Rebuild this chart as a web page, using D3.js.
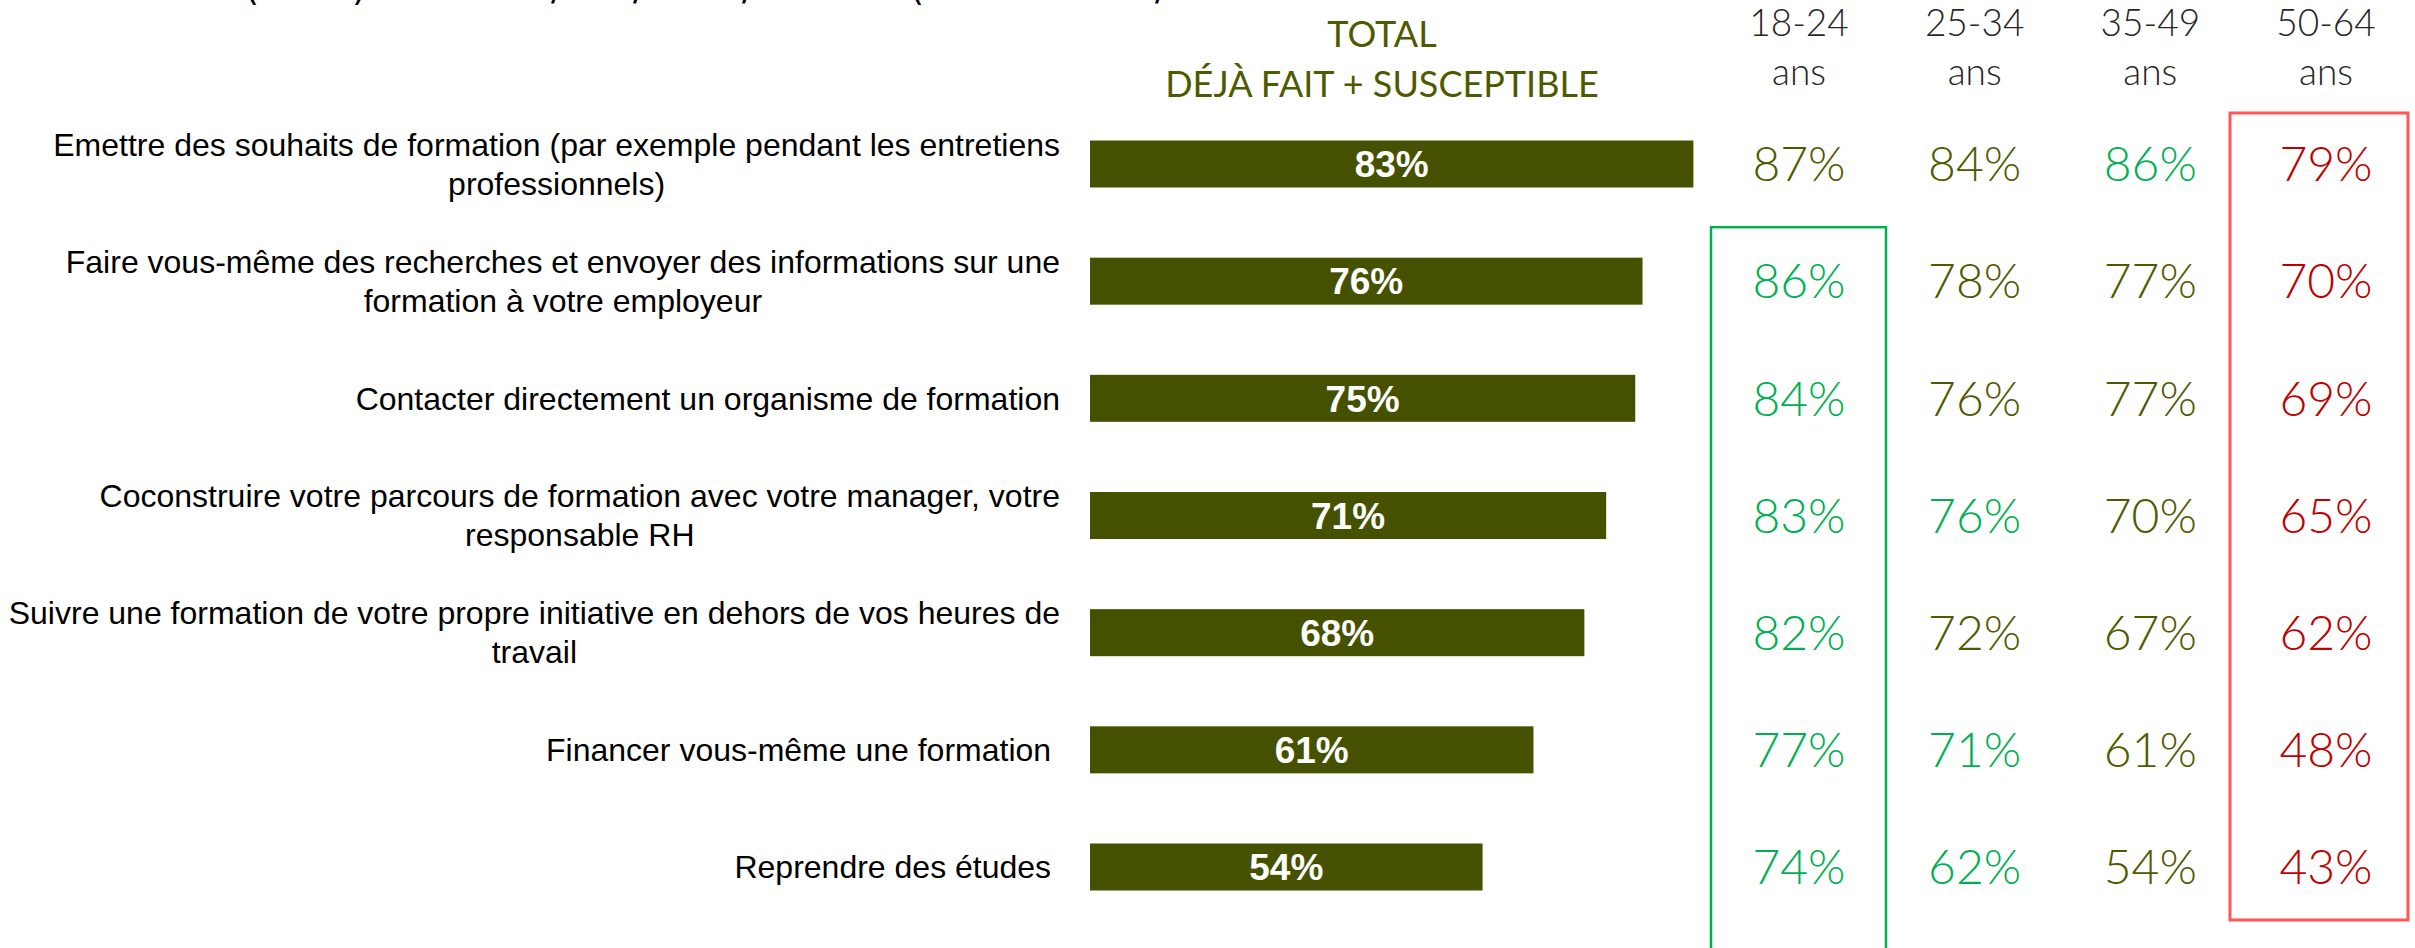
<!DOCTYPE html>
<html>
<head>
<meta charset="utf-8">
<script src="https://cdn.jsdelivr.net/npm/d3@7"></script>
<style>
  body { margin: 0; background: #fff; }
  svg { display: block; }
  .label { white-space: pre; }
</style>
</head>
<body>
<div id="chart"></div>
<script>
// data
var actions = [
    ['Emettre des souhaits de formation (par exemple pendant les entretiens', 'professionnels)'],
    ['Faire vous-même des recherches et envoyer des informations sur une', 'formation à votre employeur'],
    ['Contacter directement un organisme de formation'],
    ['Coconstruire votre parcours de formation avec votre manager, votre', 'responsable RH'],
    ['Suivre une formation de votre propre initiative en dehors de vos heures de', 'travail'],
    ['Financer vous-même une formation '],
    ['Reprendre des études ']
]
var totals = [83, 76, 75, 71, 68, 61, 54]
var ages = ['18-24', '25-34', '35-49', '50-64']
var byAge = {
    '18-24': [87, 86, 84, 83, 82, 77, 74],
    '25-34': [84, 78, 76, 76, 72, 71, 62],
    '35-49': [86, 77, 77, 70, 67, 61, 54],
    '50-64': [79, 70, 69, 65, 62, 48, 43]
}
// o = same as total, g = significantly above, r = significantly below
var signif = {
    '18-24': ['o', 'g', 'g', 'g', 'g', 'g', 'g'],
    '25-34': ['o', 'o', 'o', 'g', 'o', 'g', 'g'],
    '35-49': ['g', 'o', 'o', 'o', 'o', 'o', 'o'],
    '50-64': ['r', 'r', 'r', 'r', 'r', 'r', 'r']
}
// bottoms of the title line, cut by the top edge
var topMarks = ['(', ')', '/', '/', '/', '(', '/']
var topMarkX = [245, 352, 551, 633, 742, 910, 1155]

var width = 2415, height = 948
var olive = '#465100'
var textColor = { o: '#4f5a00', g: '#00b050', r: '#c00000' }

var svg = d3.select('#chart').append('svg')
    .attr('width', width)
    .attr('height', height)

var rows = d3.range(actions.length)

var y = d3.scalePoint()
    .domain(rows)
    .range([164, 867])

var x = d3.scaleLinear()
    .domain([0, 100])
    .range([1090, 1817])

var col = d3.scalePoint()
    .domain(ages)
    .range([1799, 2326])

var barH = 47

svg.selectAll('.topmark')
    .data(topMarks)
    .enter()
    .append('text')
    .attr('x', function (d, i) { return topMarkX[i] })
    .attr('y', 0)
    .attr('font-family', 'DejaVu Sans, sans-serif')
    .attr('font-size', 36)
    .attr('fill', '#000')
    .text(function (d) { return d })

// header
svg.append('text')
    .attr('x', 1382).attr('y', 34)
    .attr('dy', '0.35em')
    .attr('text-anchor', 'middle')
    .attr('font-family', 'Lato, sans-serif')
    .attr('font-size', 36)
    .attr('fill', '#4f5a00')
    .text('TOTAL')

svg.append('text')
    .attr('x', 1382).attr('y', 84)
    .attr('dy', '0.35em')
    .attr('text-anchor', 'middle')
    .attr('font-family', 'Lato, sans-serif')
    .attr('font-size', 36)
    .attr('fill', '#4f5a00')
    .text('DÉJÀ FAIT + SUSCEPTIBLE')

var ageHead = svg.selectAll('.agehead')
    .data(ages)
    .enter()
    .append('g')
    .attr('transform', function (d) { return 'translate(' + col(d) + ',0)' })

ageHead.append('text')
    .attr('y', 23).attr('dy', '0.35em')
    .attr('text-anchor', 'middle')
    .attr('font-family', 'Lato, sans-serif')
    .attr('font-weight', 300)
    .attr('font-size', 37)
    .attr('fill', '#262626')
    .text(function (d) { return d })

ageHead.append('text')
    .attr('y', 72).attr('dy', '0.35em')
    .attr('text-anchor', 'middle')
    .attr('font-family', 'Lato, sans-serif')
    .attr('font-weight', 300)
    .attr('font-size', 37)
    .attr('fill', '#262626')
    .text('ans')

// row labels, right aligned, second line centred under the first
var label = svg.selectAll('.label')
    .data(rows)
    .enter()
    .append('text')
    .attr('class', 'label')
    .attr('font-family', 'Liberation Sans, Arial, sans-serif')
    .attr('font-size', 32)
    .attr('fill', '#000')

label.each(function (r) {
    var lines = actions[r]
    var t = d3.select(this)
    lines.forEach(function (line, k) {
        var off = (k - (lines.length - 1) / 2) * 39
        t.append('tspan')
            .attr('x', 1060)
            .attr('y', y(r) + off)
            .attr('dy', '0.35em')
            .attr('text-anchor', k == 1 ? 'middle' : 'end')
            .text(line)
    })
    var spans = t.selectAll('tspan').nodes()
    if (spans.length > 1) {
        var first = spans[0].getComputedTextLength()
        d3.select(spans[1]).attr('x', 1060 - first / 2)
    }
})

// bars
svg.selectAll('.bar')
    .data(rows)
    .enter()
    .append('rect')
    .attr('x', x(0))
    .attr('y', function (r) { return y(r) - barH / 2 })
    .attr('width', function (r) { return x(totals[r]) - x(0) })
    .attr('height', barH)
    .attr('fill', olive)

svg.selectAll('.barlabel')
    .data(rows)
    .enter()
    .append('text')
    .attr('x', function (r) { return (x(0) + x(totals[r])) / 2 })
    .attr('y', function (r) { return y(r) })
    .attr('dy', '0.36em')
    .attr('text-anchor', 'middle')
    .attr('font-family', 'Liberation Sans, Arial, sans-serif')
    .attr('font-weight', 'bold')
    .attr('font-size', 37)
    .attr('fill', '#fff')
    .text(function (r) { return totals[r] + '%' })

// values per age
ages.forEach(function (a, j) {
    svg.selectAll('.v' + j)
        .data(rows)
        .enter()
        .append('text')
        .attr('x', col(a))
        .attr('y', function (r) { return y(r) })
        .attr('dy', '0.36em')
        .attr('text-anchor', 'middle')
        .attr('font-family', 'Lato, sans-serif')
        .attr('font-weight', 300)
        .attr('font-size', 48)
        .attr('fill', function (r) { return textColor[signif[a][r]] })
        .text(function (r) { return byAge[a][r] + '%' })
})

// highlight boxes
svg.append('rect')
    .attr('x', col('18-24') - 88)
    .attr('y', y(1) - 54)
    .attr('width', 175)
    .attr('height', height)
    .attr('fill', 'none')
    .attr('stroke', '#00b050')
    .attr('stroke-width', 2.5)

svg.append('rect')
    .attr('x', col('50-64') - 96)
    .attr('y', y(0) - 51)
    .attr('width', 178)
    .attr('height', y(6) - y(0) + 104)
    .attr('fill', 'none')
    .attr('stroke', '#ff5757')
    .attr('stroke-width', 3)
</script>
</body>
</html>
